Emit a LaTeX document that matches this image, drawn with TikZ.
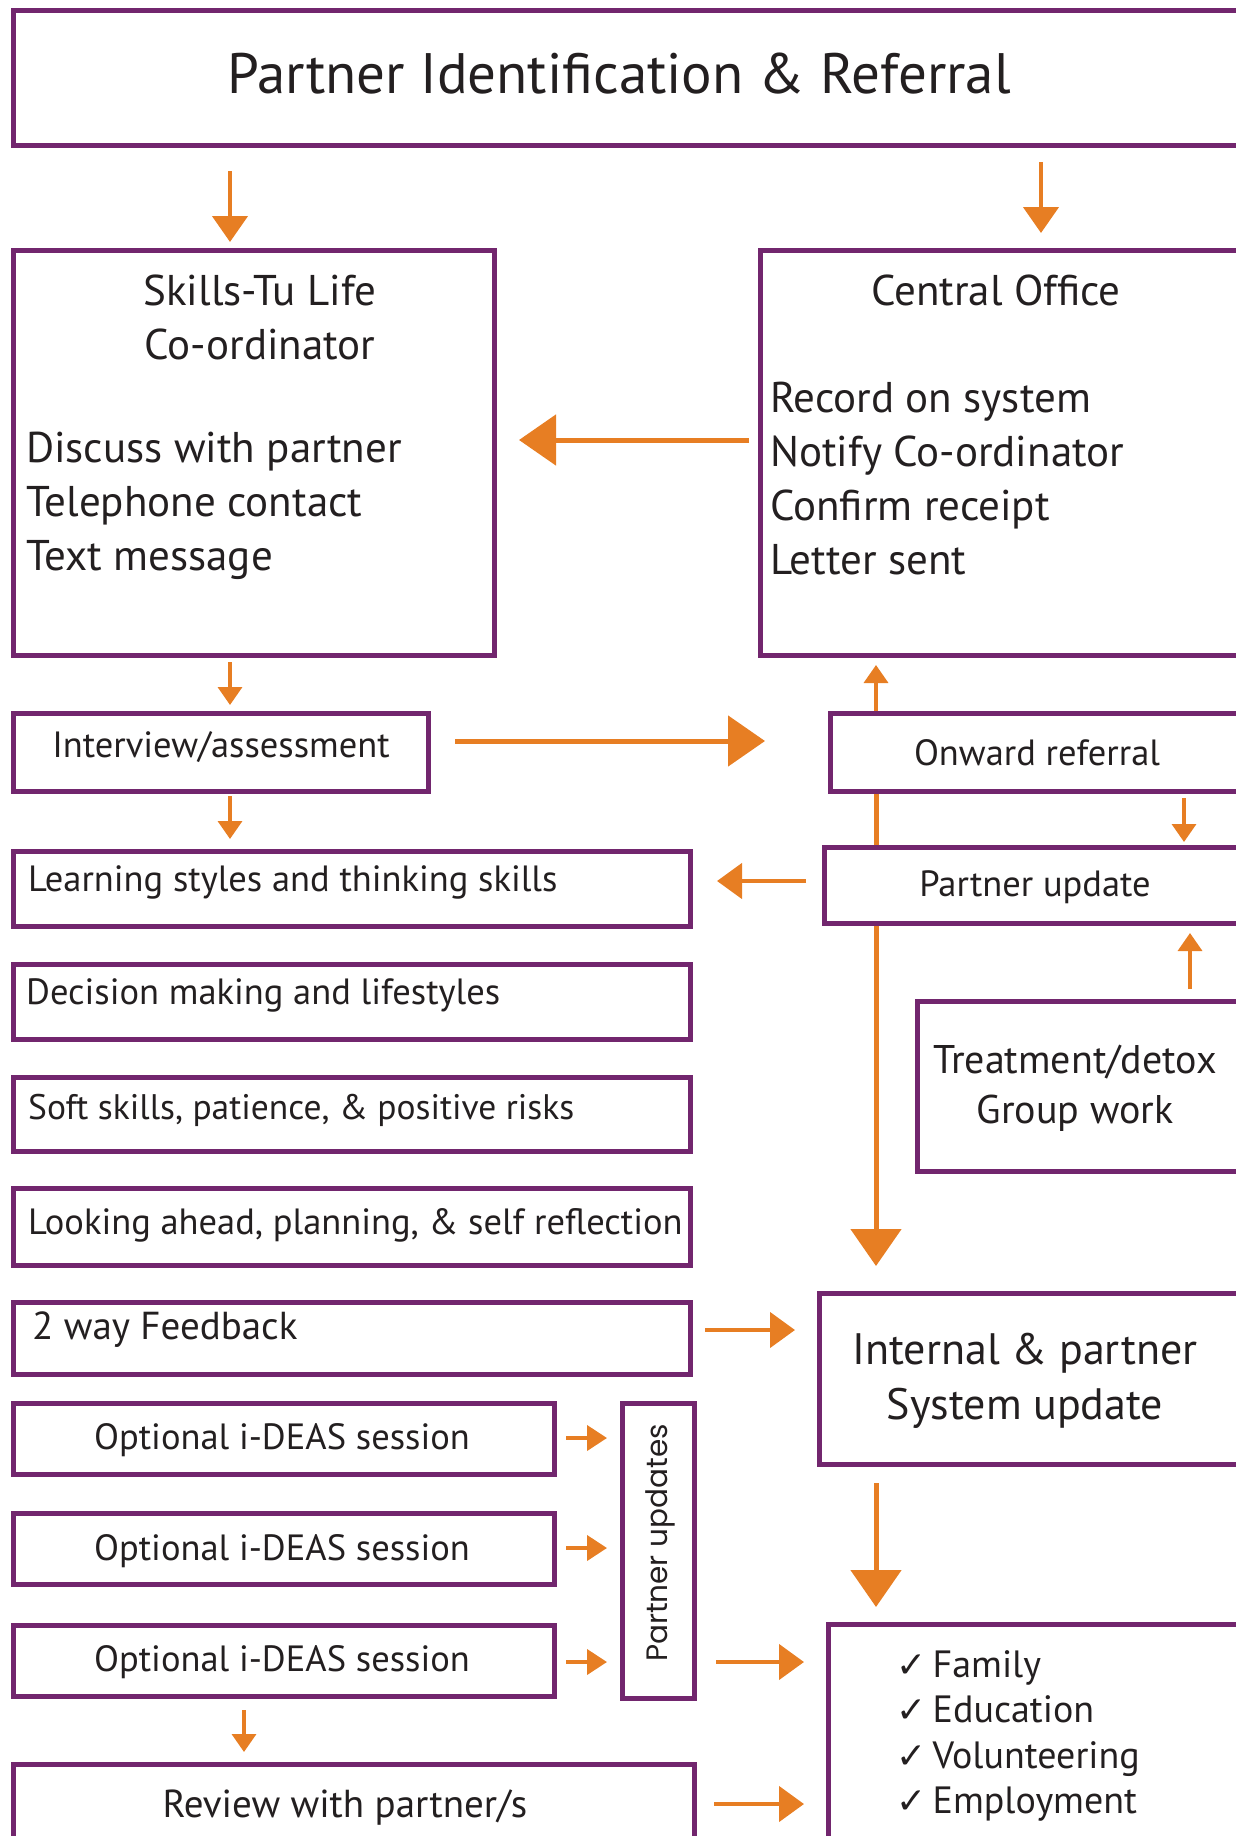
\documentclass[tikz,border=0pt]{standalone}
\usepackage{fontspec}
\setmainfont{PT Sans}
\newfontfamily\symfont{DejaVu Sans}
\newfontfamily\geofont{Poppins}
\usetikzlibrary{arrows.meta, backgrounds}
\definecolor{boxpurple}{RGB}{114,38,110}
\definecolor{arroworange}{RGB}{231,126,35}
\definecolor{textblack}{RGB}{35,31,32}

\tikzset{
  box/.style={draw=boxpurple, line width=5pt, fill=white, inner sep=0pt, outer sep=0pt},
  txt/.style={text=textblack, inner sep=0pt, font=\fontsize{36.5}{42}\selectfont},
  bigtxt/.style={text=textblack, inner sep=0pt, font=\fontsize{43}{54}\selectfont},
  arrS/.style={draw=arroworange, line width=3.5pt, -{Triangle[length=18pt,width=24pt]}},
  arrO/.style={draw=arroworange, line width=4pt, -{Triangle[length=20pt,width=25pt]}},
  arrT/.style={draw=arroworange, line width=4.5pt, -{Triangle[length=26pt,width=35pt]}},
  arrM/.style={draw=arroworange, line width=4.5pt, -{Triangle[length=25pt,width=35pt]}},
  arrB/.style={draw=arroworange, line width=5pt, -{Triangle[length=37pt,width=50pt]}},
}

\begin{document}
\begin{tikzpicture}[x=1pt, y=-1pt]
  \useasboundingbox (0,0) rectangle (1236,1836);

  % columns and rows used by the connectors
  \coordinate (colA) at (230,0);
  \coordinate (colB) at (1041,0);
  \coordinate (colC) at (876,0);
  \coordinate (colD) at (1184,0);
  \coordinate (colE) at (1190,0);
  \coordinate (colF) at (244,0);
  \coordinate (rowA) at (0,440);
  \coordinate (rowB) at (0,741);
  \coordinate (rowC) at (0,881);
  \coordinate (rowD) at (0,1330);
  \coordinate (rowE) at (0,1662);
  \coordinate (rowF) at (0,1804);

  % top
  \node[box, minimum width=1226, minimum height=134] (title) at (626,78) {};
  \node[txt, font=\fontsize{57}{64}\selectfont] (titletext) at (619,74) {Partner Identification \& Referral};

  % co-ordinator and central office
  \node[box, minimum width=481, minimum height=405] (skills) at (253.5,452.5) {};
  \node[bigtxt, align=center] (skillshead) at (260,317) {Skills-Tu Life\\Co-ordinator};
  \node[bigtxt, align=left, anchor=west] (skillslist) at (26,506) {Discuss with partner\\Telephone contact\\Text message};

  \node[box, minimum width=479, minimum height=405] (central) at (999.5,452.5) {};
  \node[bigtxt] (centralhead) at (996,290) {Central Office};
  \node[bigtxt, align=left, anchor=west] (centrallist) at (770,479) {Record on system\\Notify Co-ordinator\\Confirm receipt\\Letter sent};

  \node[box, minimum width=415, minimum height=78] (interview) at (220.5,752) {};
  \node[txt] (interviewtext) at (221,747) {Interview/assessment};
  \node[box, minimum width=409, minimum height=78] (onward) at (1034.5,752) {};
  \node[txt] (onwardtext) at (1037,753) {Onward referral};

  % sessions
  \node[box, minimum width=677, minimum height=75] (learning) at (351.5,888.5) {};
  \node[txt, anchor=west] (learningtext) at (28,882) {Learning styles and thinking skills};
  \node[box, minimum width=677, minimum height=75] (decision) at (351.5,1001.5) {};
  \node[txt, anchor=west] (decisiontext) at (26,995) {Decision making and lifestyles};
  \node[box, minimum width=677, minimum height=74] (soft) at (351.5,1114) {};
  \node[txt, anchor=west, font=\fontsize{35.5}{42}\selectfont] (softtext) at (28,1110) {Soft skills, patience, \& positive risks};
  \node[box, minimum width=677, minimum height=77] (looking) at (351.5,1226.5) {};
  \node[txt, anchor=west] (lookingtext) at (28,1225) {Looking ahead, planning, \& self reflection};
  \node[box, minimum width=677, minimum height=72] (feedback) at (351.5,1338) {};
  \node[txt, anchor=west, font=\fontsize{39}{44}\selectfont] (feedbacktext) at (32,1330) {2 way Feedback};

  \node[box, minimum width=415, minimum height=76] (pupdate) at (1031.5,885) {};
  \node[txt] (pupdatetext) at (1035,887) {Partner update};
  \node[box, minimum width=322, minimum height=170] (treatment) at (1078,1086) {};
  \node[txt, align=center, font=\fontsize{40}{50}\selectfont] (treatmenttext) at (1075,1088) {Treatment/detox\\Group work};
  \node[box, minimum width=420, minimum height=171] (internal) at (1029,1378.5) {};
  \node[bigtxt, align=center, font=\fontsize{44}{55}\selectfont] (internaltext) at (1025,1381) {Internal \& partner\\System update};

  % optional sessions
  \foreach \i/\y in {1/1438.5, 2/1549, 3/1660.5} {
    \node[box, minimum width=541, minimum height=71] (opt\i) at (283.5,\y) {};
    \node[txt] (opttext\i) at (282,\y+2) {Optional i-DEAS session};
  }
  \node[box, minimum width=72, minimum height=295] (pupdates) at (658,1550.5) {};
  \node[txt, rotate=90, font=\geofont\fontsize{29.5}{34}\selectfont] (pupdatestext) at (660,1543) {Partner updates};

  \node[box, minimum width=681, minimum height=96] (review) at (353.5,1812) {};
  \node[txt, font=\fontsize{39}{44}\selectfont] (reviewtext) at (345,1807) {Review with partner/s};

  \node[box, minimum width=411, minimum height=236] (check) at (1033.5,1742) {};
  \foreach \item [count=\i from 0] in {Family, Education, Volunteering, Employment}
    \node[txt, anchor=base west, font=\fontsize{38}{44}\selectfont] (item\i) at (896,1677+45.5*\i) {{\symfont\fontsize{36}{40}\selectfont ✓}\,\item};

  % connectors
  \begin{scope}[on background layer]
    \draw[arrT, shorten <=26pt, shorten >=8pt] (title.south -| colA) -- (skills.north -| colA);
    \draw[arrT, shorten <=17pt, shorten >=17pt] (title.south -| colB) -- (central.north -| colB);
    \draw[arrB, shorten <=11pt, shorten >=25pt] (central.west |- rowA) -- (skills.east |- rowA);
    \draw[arrS, shorten <=7pt, shorten >=8pt] (skills.south -| colA) -- (interview.north -| colA);
    \draw[arrS, shorten <=5pt, shorten >=12pt] (interview.south -| colA) -- (learning.north -| colA);
    \draw[arrB, shorten <=27pt, shorten >=65pt] (interview.east |- rowB) -- (onward.west |- rowB);
    \draw[arrS, shorten >=10pt] (onward.north -| colC) -- (central.south -| colC);
    \draw[arrS, shorten <=7pt, shorten >=5pt] (onward.south -| colD) -- (pupdate.north -| colD);
    \draw[arrB, shorten >=27pt] (onward.south -| colC) -- (internal.north -| colC);
    \draw[arrM, shorten <=18pt, shorten >=27pt] (pupdate.west |- rowC) -- (learning.east |- rowC);
    \draw[arrS, shorten <=12pt, shorten >=10pt] (treatment.north -| colE) -- (pupdate.south -| colE);
    \draw[arrM, shorten <=15pt, shorten >=24pt] (feedback.east |- rowD) -- (internal.west |- rowD);
    \foreach \i/\y in {1/1438, 2/1548, 3/1662} {
      \draw[arrO, shorten <=12pt, shorten >=15pt] (opt\i.east |- 0,\y) -- (pupdates.west |- 0,\y);
    }
    \draw[arrM, shorten <=22pt, shorten >=24pt] (pupdates.east |- rowE) -- (check.west |- rowE);
    \draw[arrS, shorten <=14pt, shorten >=12pt] (opt3.south -| colF) -- (review.north -| colF);
    \draw[arrM, shorten <=20pt, shorten >=24pt] (review.east |- rowF) -- (check.west |- rowF);
    \draw[arrB, shorten <=19pt, shorten >=17pt] (internal.south -| colC) -- (check.north -| colC);
  \end{scope}
\end{tikzpicture}
\end{document}
